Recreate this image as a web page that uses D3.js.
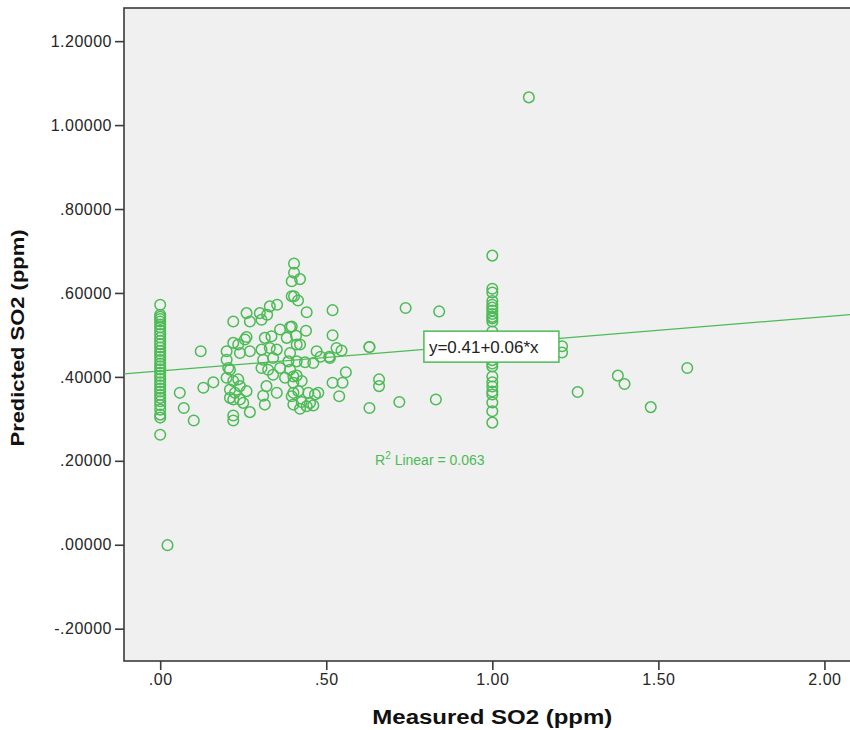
<!DOCTYPE html>
<html>
<head>
<meta charset="utf-8">
<script src="https://cdn.jsdelivr.net/npm/d3@7"></script>
<style>
    body { margin: 0; background: #fff; }
    text { font-family: Arial, "Liberation Sans", sans-serif; }
</style>
</head>
<body>
<svg id="mainChart"></svg>
<script>
var WIDTH = 850,
    HEIGHT = 730;
var PLOT = {
    LEFT: 124,
    RIGHT: 851,
    TOP: 8,
    BOTTOM: 661
};
var GREEN = '#4cbb55';

// measured (x) / predicted (y) pairs
var measured = [
    0, 0, 0, 0, 0, 0, 0, 0, 0, 0, 0, 0, 0, 0, 0, 0, 0, 0, 0, 0, 0, 0, 0, 0, 0, 0, 0, 0, 0, 0, 0, 0, 0, 0, 0,
    0.022, 0.059, 0.071, 0.101, 0.122, 0.130, 0.160,
    0.220, 0.260, 0.270, 0.300, 0.305, 0.330, 0.352, 0.322, 0.396, 0.361, 0.391, 0.260, 0.255, 0.220, 0.235,
    0.200, 0.240, 0.270, 0.305, 0.315, 0.335, 0.330, 0.351, 0.381, 0.391, 0.411, 0.200, 0.205, 0.210, 0.200,
    0.310, 0.305, 0.325, 0.340, 0.361, 0.340, 0.386, 0.391, 0.376, 0.401, 0.220, 0.235, 0.210, 0.240, 0.260,
    0.225, 0.210, 0.240, 0.220, 0.250, 0.270, 0.220, 0.220, 0.310, 0.320, 0.351, 0.315, 0.396, 0.401,
    0.403, 0.403, 0.421, 0.396, 0.403, 0.415, 0.441, 0.439, 0.396, 0.409, 0.421, 0.471, 0.483, 0.511,
    0.436, 0.461, 0.411, 0.411, 0.426, 0.401, 0.416, 0.446, 0.466, 0.476, 0.401, 0.426, 0.451, 0.461,
    0.421, 0.441, 0.519, 0.519, 0.531, 0.546, 0.559, 0.519, 0.549, 0.539, 0.509, 0.630, 0.659, 0.659,
    0.630, 0.720, 0.830, 0.739, 0.840, 0.630,
    1, 1, 1, 1, 1, 1, 1, 1, 1, 1, 1, 1, 1, 1, 1, 1, 1, 1, 1, 1, 1, 1, 1, 1, 1, 1, 1,
    1.110, 1.210, 1.210, 1.257, 1.378, 1.398, 1.477, 1.587
];
var predicted = [
    0.572, 0.548, 0.543, 0.538, 0.532, 0.525, 0.518, 0.510, 0.502, 0.494, 0.486, 0.478, 0.470, 0.462, 0.455,
    0.448, 0.440, 0.432, 0.425, 0.418, 0.410, 0.402, 0.395, 0.387, 0.380, 0.372, 0.365, 0.357, 0.350, 0.342,
    0.333, 0.322, 0.310, 0.303, 0.262,
    -0.001, 0.362, 0.326, 0.296, 0.461, 0.374, 0.387,
    0.532, 0.552, 0.532, 0.552, 0.536, 0.568, 0.572, 0.548, 0.592, 0.513, 0.519, 0.495, 0.489, 0.481, 0.477,
    0.461, 0.457, 0.461, 0.465, 0.493, 0.497, 0.469, 0.465, 0.493, 0.457, 0.477, 0.441, 0.421, 0.417, 0.398,
    0.441, 0.421, 0.417, 0.445, 0.421, 0.405, 0.437, 0.417, 0.398, 0.401, 0.390, 0.394, 0.370, 0.378, 0.366,
    0.362, 0.350, 0.346, 0.346, 0.338, 0.316, 0.308, 0.296, 0.355, 0.378, 0.362, 0.334, 0.354, 0.334,
    0.670, 0.648, 0.633, 0.628, 0.592, 0.582, 0.554, 0.510, 0.520, 0.498, 0.477, 0.461, 0.448, 0.445,
    0.435, 0.433, 0.437, 0.403, 0.390, 0.386, 0.366, 0.362, 0.358, 0.362, 0.362, 0.340, 0.338, 0.332,
    0.324, 0.330, 0.559, 0.499, 0.469, 0.463, 0.411, 0.386, 0.386, 0.354, 0.448, 0.471, 0.394, 0.378,
    0.326, 0.340, 0.346, 0.564, 0.556, 0.471,
    0.689, 0.610, 0.601, 0.581, 0.572, 0.565, 0.558, 0.550, 0.543, 0.539, 0.532, 0.508, 0.490, 0.470,
    0.453, 0.448, 0.440, 0.432, 0.425, 0.401, 0.387, 0.377, 0.365, 0.358, 0.339, 0.318, 0.291,
    1.066, 0.473, 0.458, 0.364, 0.403, 0.383, 0.328, 0.421
];
var xTicks = [0, 0.5, 1, 1.5, 2];
var yTicks = [-0.2, 0, 0.2, 0.4, 0.6, 0.8, 1.0, 1.2];
var fit = { intercept: 0.414, slope: 0.0647 };
var fitLabel = 'y=0.41+0.06*x';
var rSquared = 0.063;

var xScale = d3.scaleLinear()
    .domain([-0.109, 2.08])
    .range([PLOT.LEFT, PLOT.RIGHT]);
var yScale = d3.scaleLinear()
    .domain([-0.277, 1.279])
    .range([PLOT.BOTTOM, PLOT.TOP]);

var svg = d3.select('#mainChart')
    .attr('width', WIDTH)
    .attr('height', HEIGHT);

svg.append('defs').append('clipPath')
    .attr('id', 'plotClip')
    .append('rect')
    .attr('x', PLOT.LEFT)
    .attr('y', PLOT.TOP)
    .attr('width', PLOT.RIGHT - PLOT.LEFT)
    .attr('height', PLOT.BOTTOM - PLOT.TOP);

svg.append('rect')
    .attr('x', PLOT.LEFT)
    .attr('y', PLOT.TOP)
    .attr('width', PLOT.RIGHT - PLOT.LEFT)
    .attr('height', PLOT.BOTTOM - PLOT.TOP)
    .style('fill', '#f0f0f0')
    .style('stroke', '#3a3a3a')
    .style('stroke-width', 1.6);

// spss style: no leading zero, plain hyphen
var fmtY = function (d) {
    var s = d3.format('.5f')(d).replace('\u2212', '-');
    return s.replace(/^(-?)0\./, '$1.');
};
var fmtX = function (d) {
    var s = d3.format('.2f')(d);
    return s.replace(/^0\./, '.');
};

var yAxis = d3.axisLeft(yScale)
    .tickValues(yTicks)
    .tickFormat(fmtY)
    .tickSize(9)
    .tickPadding(3)
    .tickSizeOuter(0);
var xAxis = d3.axisBottom(xScale)
    .tickValues(xTicks)
    .tickFormat(fmtX)
    .tickSize(9)
    .tickPadding(4)
    .tickSizeOuter(0);

var gy = svg.append('g')
    .attr('transform', 'translate(' + PLOT.LEFT + ',0)')
    .call(yAxis);
var gx = svg.append('g')
    .attr('transform', 'translate(0,' + PLOT.BOTTOM + ')')
    .call(xAxis);
[gx, gy].forEach(function (g) {
    g.select('.domain').remove();
    g.selectAll('line').style('stroke', '#3a3a3a').style('stroke-width', 1.6);
    g.selectAll('text')
        .style('font-size', '16px')
        .style('letter-spacing', '0.5px')
        .style('fill', '#262626');
});

var inner = svg.append('g').attr('clip-path', 'url(#plotClip)');

// fit line
var xd = xScale.domain();
inner.append('line')
    .attr('x1', xScale(xd[0]))
    .attr('y1', yScale(fit.intercept + fit.slope * xd[0]))
    .attr('x2', xScale(xd[1]))
    .attr('y2', yScale(fit.intercept + fit.slope * xd[1]))
    .style('stroke', GREEN)
    .style('stroke-width', 1.3);

inner.selectAll('circle.pt')
    .data(d3.range(measured.length))
    .enter()
    .append('circle')
    .attr('class', 'pt')
    .attr('cx', function (i) { return xScale(measured[i]); })
    .attr('cy', function (i) { return yScale(predicted[i]); })
    .attr('r', 5.3)
    .style('fill', 'none')
    .style('stroke', GREEN)
    .style('stroke-width', 1.5);

// equation label
var lab = svg.append('g')
    .attr('transform', 'translate(' + xScale(0.794) + ',' + yScale(0.509) + ')');
lab.append('rect')
    .attr('width', 135)
    .attr('height', 31)
    .style('fill', '#fff')
    .style('stroke', GREEN)
    .style('stroke-width', 1.5);
lab.append('text')
    .attr('x', 5)
    .attr('y', 22)
    .text(fitLabel)
    .style('font-size', '17px')
    .style('fill', '#222');

var r2 = svg.append('text')
    .attr('x', xScale(0.647))
    .attr('y', yScale(0.19))
    .style('font-size', '14px')
    .style('fill', GREEN);
r2.append('tspan').text('R');
r2.append('tspan').attr('dy', -6).style('font-size', '10px').text('2');
r2.append('tspan').attr('dy', 6).text(' Linear = ' + rSquared.toFixed(3));

svg.append('text')
    .attr('x', xScale(1))
    .attr('y', 724)
    .attr('text-anchor', 'middle')
    .attr('textLength', 240)
    .attr('lengthAdjust', 'spacingAndGlyphs')
    .style('font-size', '20px')
    .style('font-weight', 'bold')
    .style('fill', '#111')
    .text('Measured SO2 (ppm)');

svg.append('text')
    .attr('transform', 'translate(24,' + 338 + ') rotate(-90)')
    .attr('text-anchor', 'middle')
    .attr('textLength', 217)
    .attr('lengthAdjust', 'spacingAndGlyphs')
    .style('font-size', '19px')
    .style('font-weight', 'bold')
    .style('fill', '#111')
    .text('Predicted SO2  (ppm)');
</script>
</body>
</html>
